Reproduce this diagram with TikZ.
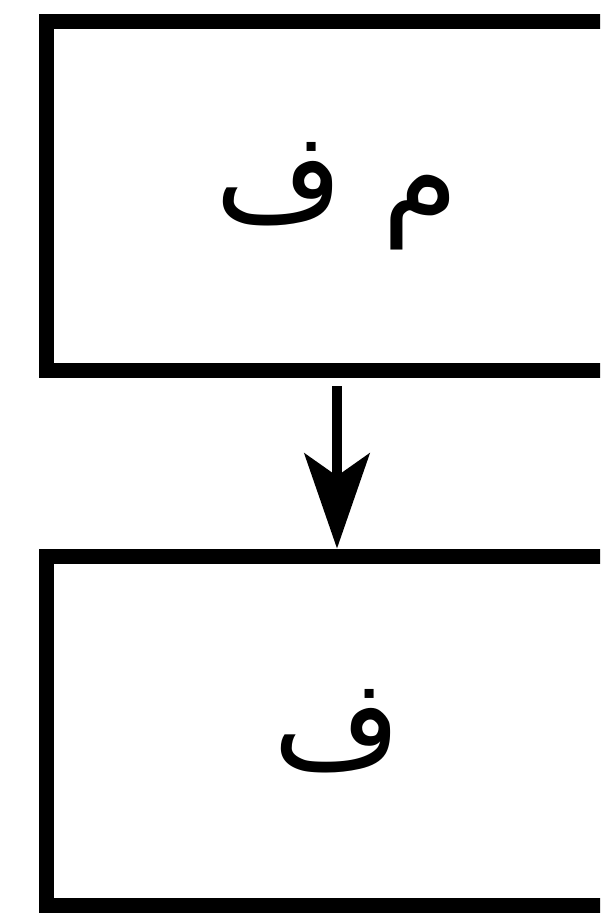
\documentclass[tikz,border=0pt]{standalone}
\usepackage{fontspec}
\newfontfamily\arabicfont[Script=Arabic]{DejaVu Sans}
\TeXXeTstate=1
\usepackage{tikz}
\usetikzlibrary{arrows.meta,positioning}
\tikzset{box/.style={draw,line width=0.3cm,minimum width=11.64cm,minimum height=7cm,inner sep=0pt,
    font=\arabicfont\fontsize{70}{80}\selectfont},
  arr/.style={-{Stealth[length=1.9cm,width=1.3cm,inset=0.45cm]},line width=0.2cm}}
\begin{document}
\begin{tikzpicture}[x=0.02cm,y=-0.02cm]
\useasboundingbox (0,0) rectangle (600,913);
\clip (0,0) rectangle (600,913);
\node[box] (top) at (337,196) {\beginR م ف\endR};
\node[box] (bottom) at (337,731) {\beginR ف\endR};
\draw[arr,shorten <=0.16cm] (top.south) -- (bottom.north);
\end{tikzpicture}
\end{document}
